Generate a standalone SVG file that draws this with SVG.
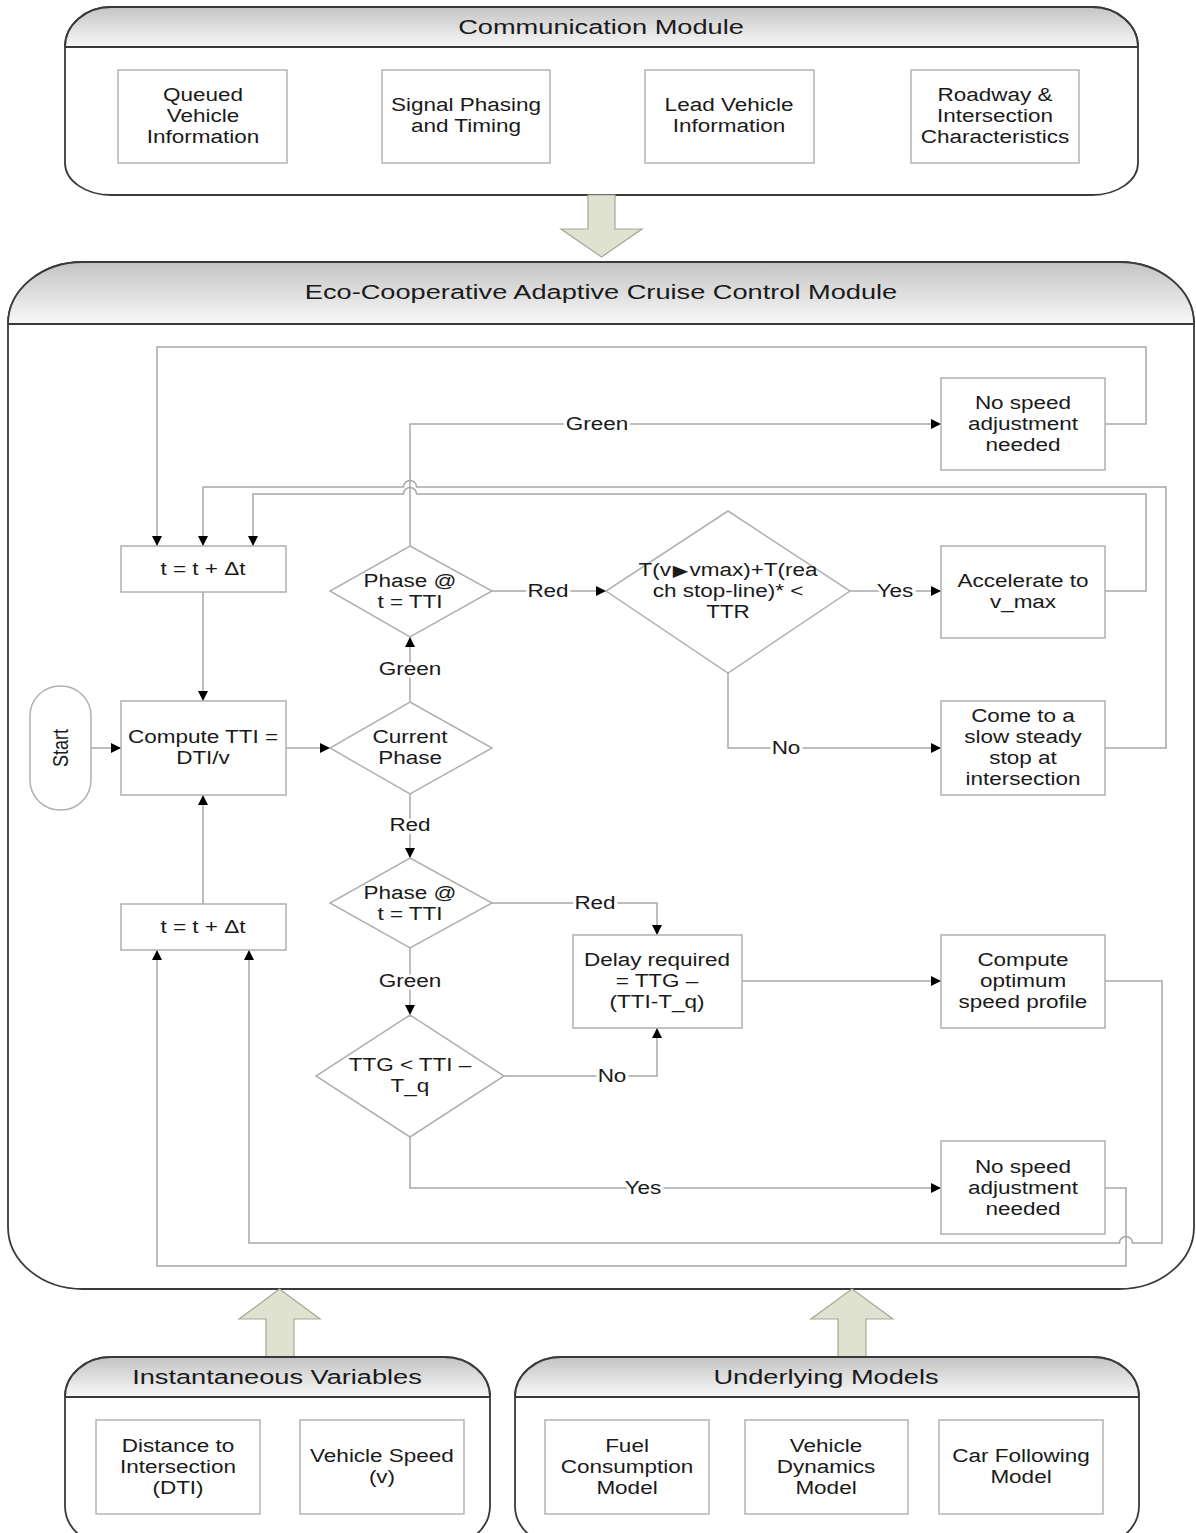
<svg xmlns="http://www.w3.org/2000/svg" width="1196" height="1533" viewBox="0 0 1196 1533">
<style>
.mod{fill:#fff;stroke:#3a3a3a;stroke-width:1.8}
.hdr{fill:url(#hg);stroke:none}
.hl{stroke:#3a3a3a;stroke-width:1.8}
.ib{fill:#fff;stroke:#b4b4b4;stroke-width:1.5}
.nd{fill:#fff;stroke:#b0b0b0;stroke-width:1.5}
.cn{fill:none;stroke:#a8a8a8;stroke-width:1.5}
.ar{fill:#dfe2d0;stroke:#a5a894;stroke-width:1.2}
.t{font-family:"Liberation Sans",Arial,sans-serif;font-size:18px;text-anchor:middle;fill:#1a1a1a}
.h{font-family:"Liberation Sans",Arial,sans-serif;font-size:20px;text-anchor:middle;fill:#1a1a1a}
.lb{font-family:"Liberation Sans",Arial,sans-serif;font-size:18px;text-anchor:middle;fill:#1a1a1a;stroke:#fff;stroke-width:5;paint-order:stroke}
.tri{font-family:"DejaVu Sans",sans-serif;font-size:16px}
</style>
<defs>
<linearGradient id="hg" x1="0" y1="0" x2="0" y2="1">
<stop offset="0" stop-color="#c4c4c4"/>
<stop offset="1" stop-color="#f8f8f8"/>
</linearGradient>
<marker id="ah" viewBox="0 0 10 10" refX="10" refY="5" markerWidth="11" markerHeight="10" markerUnits="userSpaceOnUse" orient="auto">
<path d="M0,0 L10,5 L0,10 z" fill="#000"/>
</marker>
</defs>

<!-- Communication Module -->
<g id="communication-module">
<path class="mod" d="M111,7 H1092 A46 40 0 0 1 1138 47 V163 A46 32 0 0 1 1092 195 H111 A46 32 0 0 1 65 163 V47 A46 40 0 0 1 111 7 Z"/>
<path class="hdr" d="M65,47 A46 40 0 0 1 111 7 H1092 A46 40 0 0 1 1138 47 Z"/>
<path class="mod" style="fill:none" d="M65,47 A46 40 0 0 1 111 7 H1092 A46 40 0 0 1 1138 47"/>
<line class="hl" x1="65" y1="47" x2="1138" y2="47"/>
<text class="h" transform="translate(601,0) scale(1.36,1)"><tspan x="0" y="34">Communication Module</tspan></text>
</g>
<g id="queued-vehicle-information">
<rect class="ib" x="118" y="70" width="169" height="93"/>
<text class="t" transform="translate(203,0) scale(1.25,1)"><tspan x="0" y="101.5">Queued</tspan><tspan x="0" y="122.5">Vehicle</tspan><tspan x="0" y="143.5">Information</tspan></text>
</g>
<g id="signal-phasing-timing">
<rect class="ib" x="382" y="70" width="168" height="93"/>
<text class="t" transform="translate(466,0) scale(1.25,1)"><tspan x="0" y="111.5">Signal Phasing</tspan><tspan x="0" y="132.5">and Timing</tspan></text>
</g>
<g id="lead-vehicle-information">
<rect class="ib" x="645" y="70" width="169" height="93"/>
<text class="t" transform="translate(729,0) scale(1.25,1)"><tspan x="0" y="111.5">Lead Vehicle</tspan><tspan x="0" y="132.5">Information</tspan></text>
</g>
<g id="roadway-intersection">
<rect class="ib" x="911" y="70" width="168" height="93"/>
<text class="t" transform="translate(995,0) scale(1.25,1)"><tspan x="0" y="101.5">Roadway &amp;</tspan><tspan x="0" y="122.5">Intersection</tspan><tspan x="0" y="143.5">Characteristics</tspan></text>
</g>

<g id="arrow-down">
<path class="ar" d="M588,195 H615 V229 H642 L601.5,257 L561,229 H588 Z"/>
</g>

<!-- Eco-CACC Module -->
<g id="eco-cacc-module">
<path class="mod" d="M83,262 H1119 A75 62 0 0 1 1194 324 V1227 A75 62 0 0 1 1119 1289 H83 A75 62 0 0 1 8 1227 V324 A75 62 0 0 1 83 262 Z"/>
<path class="hdr" d="M8,324 A75 62 0 0 1 83 262 H1119 A75 62 0 0 1 1194 324 Z"/>
<path class="mod" style="fill:none" d="M8,324 A75 62 0 0 1 83 262 H1119 A75 62 0 0 1 1194 324"/>
<line class="hl" x1="8" y1="324" x2="1194" y2="324"/>
<text class="h" transform="translate(601,0) scale(1.36,1)"><tspan x="0" y="299">Eco-Cooperative Adaptive Cruise Control Module</tspan></text>
</g>

<!-- Connectors -->
<g id="connectors" class="cn">
<path d="M91,748 H121" marker-end="url(#ah)"/>
<path d="M286,748 H330" marker-end="url(#ah)"/>
<path d="M203,592 V701" marker-end="url(#ah)"/>
<path d="M203,904 V795" marker-end="url(#ah)"/>
<path d="M410,702 V637" marker-end="url(#ah)"/>
<path d="M410,794 V858" marker-end="url(#ah)"/>
<path d="M410,546 V424 H941" marker-end="url(#ah)"/>
<path d="M1105,424 H1146 V347 H157 V546" marker-end="url(#ah)"/>
<path d="M1105,591 H1146 V494 H416.5 A6.5 6.5 0 0 0 403.5 494 H253 V546" marker-end="url(#ah)"/>
<path d="M1105,748 H1166 V487 H416.5 A6.5 6.5 0 0 0 403.5 487 H203 V546" marker-end="url(#ah)"/>
<path d="M492,591 H606" marker-end="url(#ah)"/>
<path d="M850,591 H941" marker-end="url(#ah)"/>
<path d="M728,673 V748 H941" marker-end="url(#ah)"/>
<path d="M492,903 H657 V935" marker-end="url(#ah)"/>
<path d="M410,948 V1015" marker-end="url(#ah)"/>
<path d="M504,1076 H657 V1028" marker-end="url(#ah)"/>
<path d="M410,1137 V1188 H941" marker-end="url(#ah)"/>
<path d="M742,981 H941" marker-end="url(#ah)"/>
<path d="M1105,981 H1162 V1243 H1132.5 A6.5 6.5 0 0 0 1119.5 1243 H249 V950" marker-end="url(#ah)"/>
<path d="M1105,1188 H1126 V1266 H157 V950" marker-end="url(#ah)"/>
</g>

<g id="connector-labels">
<text class="lb" transform="translate(597,0) scale(1.25,1)"><tspan x="0" y="430.5">Green</tspan></text>
<text class="lb" transform="translate(410,0) scale(1.25,1)"><tspan x="0" y="675.5">Green</tspan></text>
<text class="lb" transform="translate(548,0) scale(1.25,1)"><tspan x="0" y="597.5">Red</tspan></text>
<text class="lb" transform="translate(895,0) scale(1.25,1)"><tspan x="0" y="597.5">Yes</tspan></text>
<text class="lb" transform="translate(786,0) scale(1.25,1)"><tspan x="0" y="754.5">No</tspan></text>
<text class="lb" transform="translate(410,0) scale(1.25,1)"><tspan x="0" y="831.5">Red</tspan></text>
<text class="lb" transform="translate(595,0) scale(1.25,1)"><tspan x="0" y="909.5">Red</tspan></text>
<text class="lb" transform="translate(410,0) scale(1.25,1)"><tspan x="0" y="987.5">Green</tspan></text>
<text class="lb" transform="translate(612,0) scale(1.25,1)"><tspan x="0" y="1082.5">No</tspan></text>
<text class="lb" transform="translate(643,0) scale(1.25,1)"><tspan x="0" y="1194.5">Yes</tspan></text>
</g>

<!-- Flowchart nodes -->
<g id="start">
<rect class="nd" x="30" y="686" width="61" height="124" rx="30" ry="30"/>
<text class="t" transform="translate(60,748) scale(1.25,1) rotate(-90)"><tspan x="0" y="6.5">Start</tspan></text>
</g>
<g id="compute-tti">
<rect class="nd" x="121" y="701" width="165" height="94"/>
<text class="t" transform="translate(203,0) scale(1.25,1)"><tspan x="0" y="743.5">Compute TTI =</tspan><tspan x="0" y="764.5">DTI/v</tspan></text>
</g>
<g id="t-increment-top">
<rect class="nd" x="121" y="546" width="165" height="46"/>
<text class="t" transform="translate(203,0) scale(1.25,1)"><tspan x="0" y="575.5">t = t + Δt</tspan></text>
</g>
<g id="t-increment-bottom">
<rect class="nd" x="121" y="904" width="165" height="46"/>
<text class="t" transform="translate(203,0) scale(1.25,1)"><tspan x="0" y="933.5">t = t + Δt</tspan></text>
</g>
<g id="current-phase">
<polygon class="nd" points="410,702 492,748 410,794 330,748"/>
<text class="t" transform="translate(410,0) scale(1.25,1)"><tspan x="0" y="743.5">Current</tspan><tspan x="0" y="764.5">Phase</tspan></text>
</g>
<g id="phase-tti-top">
<polygon class="nd" points="410,546 492,591 410,637 330,591"/>
<text class="t" transform="translate(410,0) scale(1.25,1)"><tspan x="0" y="587.5">Phase @</tspan><tspan x="0" y="608.5">t = TTI</tspan></text>
</g>
<g id="phase-tti-bottom">
<polygon class="nd" points="410,858 492,903 410,948 330,903"/>
<text class="t" transform="translate(410,0) scale(1.25,1)"><tspan x="0" y="899.5">Phase @</tspan><tspan x="0" y="920.5">t = TTI</tspan></text>
</g>
<g id="ttg-check">
<polygon class="nd" points="410,1015 504,1076 410,1137 316,1076"/>
<text class="t" transform="translate(410,0) scale(1.25,1)"><tspan x="0" y="1071.5">TTG &lt; TTI –</tspan><tspan x="0" y="1092.5">T_q</tspan></text>
</g>
<g id="ttr-check">
<polygon class="nd" points="728,511 850,591 728,673 606,591"/>
<text class="t" transform="translate(728,0) scale(1.25,1)"><tspan x="0" y="576.5">T(v<tspan class="tri" dx="1.5">▶</tspan><tspan dx="1">vmax)+T(rea</tspan></tspan><tspan x="0" y="597.5">ch stop-line)* &lt;</tspan><tspan x="0" y="618.5">TTR</tspan></text>
</g>
<g id="no-speed-adjustment-top">
<rect class="nd" x="941" y="378" width="164" height="92"/>
<text class="t" transform="translate(1023,0) scale(1.25,1)"><tspan x="0" y="409.5">No speed</tspan><tspan x="0" y="430.5">adjustment</tspan><tspan x="0" y="451.5">needed</tspan></text>
</g>
<g id="accelerate">
<rect class="nd" x="941" y="546" width="164" height="92"/>
<text class="t" transform="translate(1023,0) scale(1.25,1)"><tspan x="0" y="587.5">Accelerate to</tspan><tspan x="0" y="608.5">v_max</tspan></text>
</g>
<g id="slow-stop">
<rect class="nd" x="941" y="701" width="164" height="94"/>
<text class="t" transform="translate(1023,0) scale(1.25,1)"><tspan x="0" y="722.5">Come to a</tspan><tspan x="0" y="743.5">slow steady</tspan><tspan x="0" y="764.5">stop at</tspan><tspan x="0" y="785.5">intersection</tspan></text>
</g>
<g id="delay-required">
<rect class="nd" x="573" y="935" width="169" height="93"/>
<text class="t" transform="translate(657,0) scale(1.25,1)"><tspan x="0" y="966.5">Delay required</tspan><tspan x="0" y="987.5">= TTG –</tspan><tspan x="0" y="1008.5">(TTI-T_q)</tspan></text>
</g>
<g id="optimum-speed-profile">
<rect class="nd" x="941" y="935" width="164" height="93"/>
<text class="t" transform="translate(1023,0) scale(1.25,1)"><tspan x="0" y="966.5">Compute</tspan><tspan x="0" y="987.5">optimum</tspan><tspan x="0" y="1008.5">speed profile</tspan></text>
</g>
<g id="no-speed-adjustment-bottom">
<rect class="nd" x="941" y="1141" width="164" height="93"/>
<text class="t" transform="translate(1023,0) scale(1.25,1)"><tspan x="0" y="1173.5">No speed</tspan><tspan x="0" y="1194.5">adjustment</tspan><tspan x="0" y="1215.5">needed</tspan></text>
</g>

<g id="arrow-up-left">
<path class="ar" d="M266,1357 V1319 H239 L279.5,1289 L320,1319 H294 V1357 Z"/>
</g>
<g id="arrow-up-right">
<path class="ar" d="M838,1357 V1319 H811 L852,1289 L893,1319 H866 V1357 Z"/>
</g>

<!-- Instantaneous Variables -->
<g id="instantaneous-variables">
<path class="mod" d="M111,1357 H444 A46 40 0 0 1 490 1397 V1506 A46 40 0 0 1 444 1546 H111 A46 40 0 0 1 65 1506 V1397 A46 40 0 0 1 111 1357 Z"/>
<path class="hdr" d="M65,1397 A46 40 0 0 1 111 1357 H444 A46 40 0 0 1 490 1397 Z"/>
<path class="mod" style="fill:none" d="M65,1397 A46 40 0 0 1 111 1357 H444 A46 40 0 0 1 490 1397"/>
<line class="hl" x1="65" y1="1397" x2="490" y2="1397"/>
<text class="h" transform="translate(277,0) scale(1.36,1)"><tspan x="0" y="1384">Instantaneous Variables</tspan></text>
</g>
<g id="distance-to-intersection">
<rect class="ib" x="96" y="1420" width="164" height="94"/>
<text class="t" transform="translate(178,0) scale(1.25,1)"><tspan x="0" y="1452.5">Distance to</tspan><tspan x="0" y="1473.5">Intersection</tspan><tspan x="0" y="1494.5">(DTI)</tspan></text>
</g>
<g id="vehicle-speed">
<rect class="ib" x="300" y="1420" width="164" height="94"/>
<text class="t" transform="translate(382,0) scale(1.25,1)"><tspan x="0" y="1462.5">Vehicle Speed</tspan><tspan x="0" y="1483.5">(v)</tspan></text>
</g>

<!-- Underlying Models -->
<g id="underlying-models">
<path class="mod" d="M561,1357 H1093 A46 40 0 0 1 1139 1397 V1506 A46 40 0 0 1 1093 1546 H561 A46 40 0 0 1 515 1506 V1397 A46 40 0 0 1 561 1357 Z"/>
<path class="hdr" d="M515,1397 A46 40 0 0 1 561 1357 H1093 A46 40 0 0 1 1139 1397 Z"/>
<path class="mod" style="fill:none" d="M515,1397 A46 40 0 0 1 561 1357 H1093 A46 40 0 0 1 1139 1397"/>
<line class="hl" x1="515" y1="1397" x2="1139" y2="1397"/>
<text class="h" transform="translate(826,0) scale(1.36,1)"><tspan x="0" y="1384">Underlying Models</tspan></text>
</g>
<g id="fuel-consumption-model">
<rect class="ib" x="545" y="1420" width="164" height="94"/>
<text class="t" transform="translate(627,0) scale(1.25,1)"><tspan x="0" y="1452.5">Fuel</tspan><tspan x="0" y="1473.5">Consumption</tspan><tspan x="0" y="1494.5">Model</tspan></text>
</g>
<g id="vehicle-dynamics-model">
<rect class="ib" x="745" y="1420" width="163" height="94"/>
<text class="t" transform="translate(826,0) scale(1.25,1)"><tspan x="0" y="1452.5">Vehicle</tspan><tspan x="0" y="1473.5">Dynamics</tspan><tspan x="0" y="1494.5">Model</tspan></text>
</g>
<g id="car-following-model">
<rect class="ib" x="939" y="1420" width="164" height="94"/>
<text class="t" transform="translate(1021,0) scale(1.25,1)"><tspan x="0" y="1462.5">Car Following</tspan><tspan x="0" y="1483.5">Model</tspan></text>
</g>
</svg>
